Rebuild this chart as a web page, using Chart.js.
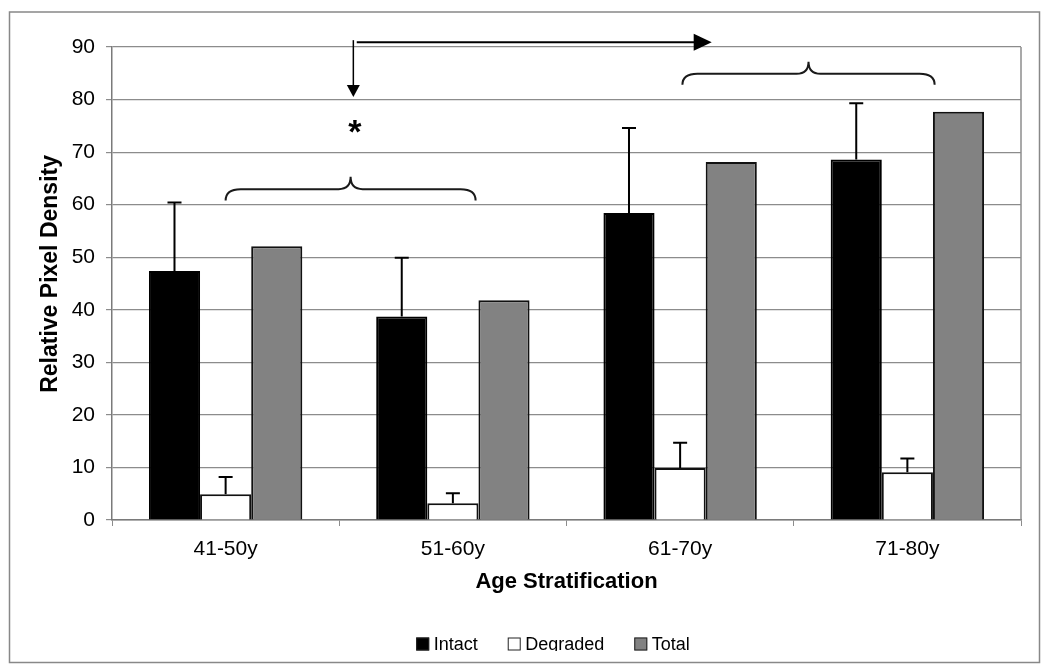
<!DOCTYPE html>
<html>
<head>
<meta charset="utf-8">
<script src="https://cdn.jsdelivr.net/npm/chart.js@4.4.1/dist/chart.umd.min.js"></script>
<style>
  body { margin: 0; background: #fff; }
  canvas { display: block; }
</style>
</head>
<body>
<canvas id="myChart" width="1050" height="670"></canvas>
<script>
// data
const categories = ["41-50y", "51-60y", "61-70y", "71-80y"];
const intact = [47.4, 38.7, 58.4, 68.6];
const intactSd = [13.0, 11.2, 16.2, 10.7];
const degraded = [4.9, 3.2, 9.9, 9.1];
const degradedSd = [3.3, 1.9, 4.8, 2.6];
const total = [52.1, 41.8, 68.1, 77.7];
const yTicks = [0, 10, 20, 30, 40, 50, 60, 70, 80, 90];

// annotation positions, in category index / value units
const braces = [
  { from: 0, to: 1.1, yEnd: 60.8, yTip: 65.3 },
  { from: 2.01, to: 3.12, yEnd: 82.8, yTip: 87.2 },
];
const downArrow = { x: 0.562, yFrom: 91.3, yTo: 80.5 };
const rightArrow = { y: 90.9, xFrom: 0.577, xTo: 2.139 };
const star = { x: 0.569, y: 71.7 };

const FONT = "'Liberation Sans', Arial, Helvetica, sans-serif";
const GRID = "#8c8c8c";

// error bars for the datasets that have a sd
const errors = { 0: intactSd, 1: degradedSd };

const drawBrace = (ctx, x0, x1, yEnd, yFlat, yTip) => {
  const mid = (x0 + x1) / 2;
  ctx.beginPath();
  ctx.moveTo(x0, yEnd);
  ctx.quadraticCurveTo(x0, yFlat, x0 + 15, yFlat);
  ctx.lineTo(mid - 12, yFlat);
  ctx.quadraticCurveTo(mid, yFlat, mid, yTip);
  ctx.quadraticCurveTo(mid, yFlat, mid + 12, yFlat);
  ctx.lineTo(x1 - 15, yFlat);
  ctx.quadraticCurveTo(x1, yFlat, x1, yEnd);
  ctx.stroke();
};

const extras = {
  id: "extras",
  beforeDraw(chart) {
    const ctx = chart.ctx;
    ctx.save();
    ctx.fillStyle = "#fff";
    ctx.fillRect(0, 0, chart.width, chart.height);
    // outer frame
    ctx.strokeStyle = "#888";
    ctx.lineWidth = 1.5;
    ctx.strokeRect(9.5, 12, 1030, 650.5);
    ctx.restore();
  },
  afterDatasetsDraw(chart) {
    const ctx = chart.ctx;
    const x = chart.scales.x;
    const y = chart.scales.y;
    const area = chart.chartArea;
    ctx.save();

    // right border of the plot
    ctx.strokeStyle = GRID;
    ctx.lineWidth = 1.5;
    ctx.beginPath();
    ctx.moveTo(area.right, area.top);
    ctx.lineTo(area.right, area.bottom);
    ctx.stroke();

    // error bars (upper only)
    ctx.strokeStyle = "#000";
    ctx.lineWidth = 2;
    Object.keys(errors).forEach((di) => {
      const meta = chart.getDatasetMeta(Number(di));
      const values = chart.data.datasets[di].data;
      meta.data.forEach((bar, i) => {
        const top = y.getPixelForValue(values[i] + errors[di][i]);
        ctx.beginPath();
        ctx.moveTo(bar.x, bar.y);
        ctx.lineTo(bar.x, top);
        ctx.moveTo(bar.x - 7, top);
        ctx.lineTo(bar.x + 7, top);
        ctx.stroke();
      });
    });

    // braces
    ctx.strokeStyle = "#1a1a1a";
    ctx.lineWidth = 2;
    braces.forEach((b) => {
      const yEnd = y.getPixelForValue(b.yEnd);
      const yTip = y.getPixelForValue(b.yTip);
      const yFlat = (yEnd + yTip) / 2 + 0.5;
      drawBrace(ctx, x.getPixelForValue(b.from), x.getPixelForValue(b.to), yEnd, yFlat, yTip);
    });

    // arrows
    ctx.fillStyle = "#000";
    ctx.strokeStyle = "#000";
    const ax = x.getPixelForValue(downArrow.x);
    const ay0 = y.getPixelForValue(downArrow.yFrom);
    const ay1 = y.getPixelForValue(downArrow.yTo);
    ctx.lineWidth = 1.5;
    ctx.beginPath();
    ctx.moveTo(ax, ay0);
    ctx.lineTo(ax, ay1 - 10);
    ctx.stroke();
    ctx.beginPath();
    ctx.moveTo(ax - 6.5, ay1 - 12);
    ctx.lineTo(ax + 6.5, ay1 - 12);
    ctx.lineTo(ax, ay1);
    ctx.closePath();
    ctx.fill();

    const hy = y.getPixelForValue(rightArrow.y);
    const hx0 = x.getPixelForValue(rightArrow.xFrom);
    const hx1 = x.getPixelForValue(rightArrow.xTo);
    ctx.lineWidth = 2;
    ctx.beginPath();
    ctx.moveTo(hx0, hy);
    ctx.lineTo(hx1 - 15, hy);
    ctx.stroke();
    ctx.beginPath();
    ctx.moveTo(hx1 - 18, hy - 8.5);
    ctx.lineTo(hx1 - 18, hy + 8.5);
    ctx.lineTo(hx1, hy);
    ctx.closePath();
    ctx.fill();

    // significance star
    ctx.font = "bold 34px " + FONT;
    ctx.textAlign = "center";
    ctx.textBaseline = "alphabetic";
    ctx.fillText("*", x.getPixelForValue(star.x), y.getPixelForValue(star.y));
    ctx.restore();
  },
  afterDraw(chart) {
    // legend along the bottom, clipped like the original
    const ctx = chart.ctx;
    ctx.save();
    ctx.beginPath();
    ctx.rect(0, 0, chart.width, 651);
    ctx.clip();
    ctx.font = "18px " + FONT;
    ctx.textBaseline = "alphabetic";
    ctx.textAlign = "left";
    const items = chart.data.datasets.map((ds) => ({
      label: ds.label,
      fill: ds.backgroundColor,
      width: 13 + 4.5 + ctx.measureText(ds.label).width,
    }));
    const gap = 30;
    const full = items.reduce((s, it) => s + it.width, 0) + gap * (items.length - 1);
    let cx = 553 - full / 2;
    items.forEach((it) => {
      ctx.fillStyle = it.fill;
      ctx.fillRect(cx, 637.5, 13, 13);
      ctx.strokeStyle = "#222";
      ctx.lineWidth = 1;
      ctx.strokeRect(cx + 0.5, 638, 12, 12);
      ctx.fillStyle = "#000";
      ctx.fillText(it.label, cx + 17.5, 650.3);
      cx += it.width + gap;
    });
    ctx.restore();
  },
};

const ctx = document.getElementById("myChart").getContext("2d");

const myChart = new Chart(ctx, {
  type: "bar",
  data: {
    labels: categories,
    datasets: [
      {
        label: "Intact",
        data: intact,
        backgroundColor: "#000",
        borderColor: "#000",
        borderWidth: 2,
      },
      {
        label: "Degraded",
        data: degraded,
        backgroundColor: "#fff",
        borderColor: "#111",
        borderWidth: 2,
      },
      {
        label: "Total",
        data: total,
        backgroundColor: "#828282",
        borderColor: "#111",
        borderWidth: 2,
      },
    ],
  },
  options: {
    responsive: false,
    animation: false,
    devicePixelRatio: 1,
    layout: {
      padding: { left: 37, top: 47, right: 29, bottom: 75 },
    },
    datasets: {
      bar: {
        categoryPercentage: 0.675,
        barPercentage: 1,
      },
    },
    scales: {
      x: {
        offset: true,
        grid: {
          offset: true,
          drawOnChartArea: false,
          drawTicks: true,
          tickLength: 6,
          color: GRID,
        },
        border: { color: "#7a7a7a", width: 1.5 },
        ticks: {
          color: "#000",
          padding: 11,
          font: { family: FONT, size: 21 },
        },
        title: {
          display: true,
          text: "Age Stratification",
          color: "#000",
          padding: 0,
          font: { family: FONT, size: 22, weight: "bold" },
        },
        afterFit: (scale) => {
          scale.height = 75;
        },
      },
      y: {
        min: 0,
        max: 90,
        afterBuildTicks: (scale) => {
          scale.ticks = yTicks.map((v) => ({ value: v }));
        },
        grid: {
          color: GRID,
          lineWidth: 1.2,
          drawTicks: true,
          tickLength: 6,
        },
        border: { color: "#7a7a7a", width: 1.5 },
        ticks: {
          color: "#000",
          padding: 11,
          font: { family: FONT, size: 21 },
        },
        title: {
          display: true,
          // leading spaces nudge the rotated title up a little, like the original
          text: "   Relative Pixel Density",
          color: "#000",
          padding: 0,
          font: { family: FONT, size: 23, weight: "bold" },
        },
        afterFit: (scale) => {
          scale.width = 75;
        },
      },
    },
    plugins: {
      legend: { display: false },
      tooltip: { enabled: false },
    },
  },
  plugins: [extras],
});
</script>
</body>
</html>
